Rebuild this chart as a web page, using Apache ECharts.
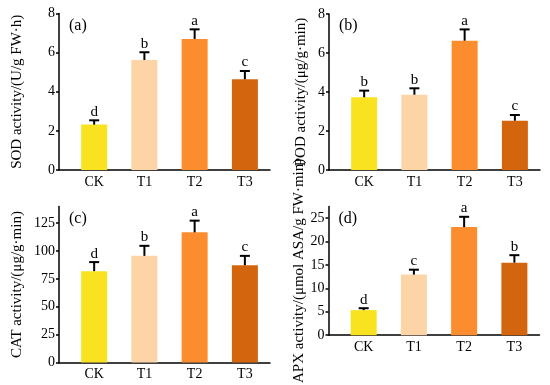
<!DOCTYPE html>
<html>
<head>
<meta charset="utf-8">
<script src="https://cdn.jsdelivr.net/npm/echarts@6/dist/echarts.min.js"></script>
<style>html,body{margin:0;padding:0;background:#fff}#c{width:550px;height:385px}</style>
</head>
<body>
<div id="c"></div>
<script>
const categories = ['CK', 'T1', 'T2', 'T3'];
const barColors = ['#F9E21F', '#FDD4A6', '#FC8D2F', '#D3650F'];

const sodMean = [2.32, 5.62, 6.70, 4.64];
const sodErr = [0.22, 0.40, 0.49, 0.42];
const sodLetters = ['d', 'b', 'a', 'c'];

const podMean = [3.73, 3.86, 6.63, 2.53];
const podErr = [0.34, 0.33, 0.58, 0.29];
const podLetters = ['b', 'b', 'a', 'c'];

const catMean = [82.0, 95.7, 116.8, 87.3];
const catErr = [8.1, 9.0, 10.5, 8.4];
const catLetters = ['d', 'b', 'a', 'c'];

const apxMean = [5.36, 12.95, 23.1, 15.5];
const apxErr = [0.41, 1.05, 2.2, 1.6];
const apxLetters = ['d', 'c', 'a', 'b'];

const sodTicks = [0, 2, 4, 6, 8];
const podTicks = [0, 2, 4, 6, 8];
const catTicks = [0, 25, 50, 75, 100, 125];
const apxTicks = [0, 5, 10, 15, 20, 25];

const FONT = '"Liberation Serif", "Times New Roman", serif';

const panels = [
  {mean: sodMean, err: sodErr, letters: sodLetters, ticks: sodTicks, max: 8, name: 'SOD activity/(U/g FW·h)', gap: 34, tag: '(a)',
   grid: {left: 59, top: 13.5, width: 211, height: 156.5}, namePad: [0,0,0,0]},
  {mean: podMean, err: podErr, letters: podLetters, ticks: podTicks, max: 8, name: 'POD activity/(μg/g·min)', gap: 20, tag: '(b)',
   grid: {left: 329, top: 14, width: 211, height: 156}, namePad: [0,0,0,0]},
  {mean: catMean, err: catErr, letters: catLetters, ticks: catTicks, max: 140, name: 'CAT activity/(μg/g·min)', gap: 34, tag: '(c)',
   grid: {left: 59, top: 206.5, width: 211, height: 156}, namePad: [0,0,0,0]},
  {mean: apxMean, err: apxErr, letters: apxLetters, ticks: apxTicks, max: 27.5, name: 'APX activity/(μmol ASA/g FW·min)', gap: 20, tag: '(d)',
   grid: {left: 328.5, top: 206.5, width: 211, height: 156}, namePad: [0,0,0,0]}
];

const grids = [], xAxes = [], yAxes = [], series = [], graphics = [];
panels.forEach((p, k) => {
  grids.push(Object.assign({containLabel: false}, p.grid));
  xAxes.push({
    type: 'value', gridIndex: k, min: -0.7, max: 3.5,
    axisLine: {show: true, onZero: false, lineStyle: {color: '#000', width: 1.5}},
    axisTick: {show: false},
    splitLine: {show: false},
    axisLabel: {customValues: [0, 1, 2, 3], formatter: v => categories[Math.round(v)] || '',
      color: '#000', fontFamily: FONT, fontSize: 14, margin: 5}
  });
  yAxes.push({
    type: 'value', gridIndex: k, min: 0, max: p.max,
    name: p.name, nameLocation: 'middle', nameGap: p.gap, nameRotate: 90,
    nameTextStyle: {color: '#000', fontFamily: FONT, fontSize: 15, padding: p.namePad},
    axisLine: {show: true, onZero: false, lineStyle: {color: '#000', width: 1.5}},
    axisTick: {show: true, length: 3, inside: false, customValues: p.ticks, lineStyle: {color: '#000', width: 1.5}},
    axisLabel: {customValues: p.ticks, color: '#000', fontFamily: FONT, fontSize: 14, margin: 4},
    splitLine: {show: false}
  });
  series.push({
    type: 'bar', xAxisIndex: k, yAxisIndex: k, barWidth: 26, animation: false,
    data: p.mean.map((v, i) => ({value: [i, v], itemStyle: {color: barColors[i]}}))
  });
  const letters = p.letters;
  series.push({
    type: 'custom', xAxisIndex: k, yAxisIndex: k, animation: false, z: 5,
    encode: {x: 0, y: 1},
    data: p.mean.map((v, i) => [i, v, p.err[i]]),
    renderItem: function (params, api) {
      const x = api.value(0), m = api.value(1), e = api.value(2);
      const p0 = api.coord([x, m]);
      const p1 = api.coord([x, m + e]);
      return {type: 'group', children: [
        {type: 'line', shape: {x1: p0[0], y1: p0[1], x2: p1[0], y2: p1[1]}, style: {stroke: '#000', lineWidth: 2}},
        {type: 'line', shape: {x1: p1[0] - 5, y1: p1[1], x2: p1[0] + 5, y2: p1[1]}, style: {stroke: '#000', lineWidth: 2}},
        {type: 'text', x: p1[0], y: p1[1] - 1, style: {text: letters[params.dataIndex], textAlign: 'center', textVerticalAlign: 'bottom',
          font: '15px ' + FONT, fill: '#000'}}
      ]};
    }
  });
  graphics.push({type: 'text', left: p.grid.left + 10, top: p.grid.top + 4,
    style: {text: p.tag, font: '16px ' + FONT, fill: '#000'}});
});

const chart = echarts.init(document.getElementById('c'), null, {renderer: 'canvas'});
chart.setOption({
  animation: false,
  backgroundColor: '#fff',
  grid: grids, xAxis: xAxes, yAxis: yAxes, series: series, graphic: graphics
});
</script>
</body>
</html>
